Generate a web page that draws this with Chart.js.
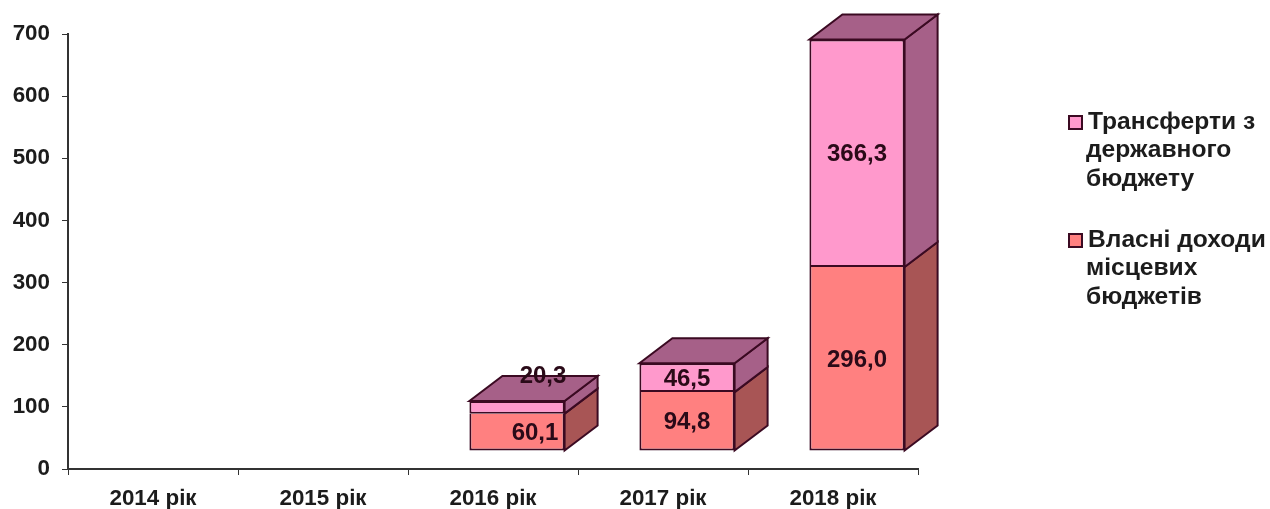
<!DOCTYPE html>
<html>
<head>
<meta charset="utf-8">
<script src="https://cdn.jsdelivr.net/npm/chart.js@4"></script>
<style>
  html, body { margin: 0; padding: 0; background: #fff; }
  canvas { display: block; filter: blur(0.6px); }
</style>
</head>
<body>
<canvas id="myChart" width="1270" height="509"></canvas>
<script>
const categories = ['2014 рік', '2015 рік', '2016 рік', '2017 рік', '2018 рік'];
const ownRevenue = [null, null, 60.1, 94.8, 296.0];
const transfers = [null, null, 20.3, 46.5, 366.3];
const yTicks = [0, 100, 200, 300, 400, 500, 600, 700];

const FONT = '"Liberation Sans", Arial, sans-serif';
const TEXT_COLOR = '#1c1c1c';
const AXIS_COLOR = '#333';
const EDGE = '#3b0a22';

// fake 3D: front faces sit up and right of the axis, depth goes further back
const SHIFT = { x: 24, y: -18 };
const DEPTH = { x: 33, y: -25 };

// two labels in the 2016 column were dragged by hand in the original
const labelNudge = { '0:2': [18, 0], '1:2': [26, -32] };

function poly(ctx, pts, fill) {
  ctx.beginPath();
  pts.forEach((p, i) => (i ? ctx.lineTo(p[0], p[1]) : ctx.moveTo(p[0], p[1])));
  ctx.closePath();
  ctx.fillStyle = fill;
  ctx.fill();
  ctx.strokeStyle = EDGE;
  ctx.lineWidth = 2;
  ctx.stroke();
}

const boxPlugin = {
  id: 'box3d',
  beforeDatasetsDraw(chart) {
    const ctx = chart.ctx;
    ctx.save();
    ctx.translate(SHIFT.x, SHIFT.y);
    chart.data.datasets.forEach((ds, di) => {
      chart.getDatasetMeta(di).data.forEach((bar, i) => {
        if (ds.data[i] == null) return;
        const r = bar.x + bar.width / 2;
        const l = bar.x - bar.width / 2;
        poly(ctx, [[r, bar.base], [r + DEPTH.x, bar.base + DEPTH.y], [r + DEPTH.x, bar.y + DEPTH.y], [r, bar.y]], ds.sideColor);
        if (di === chart.data.datasets.length - 1) {
          poly(ctx, [[l, bar.y], [l + DEPTH.x, bar.y + DEPTH.y], [r + DEPTH.x, bar.y + DEPTH.y], [r, bar.y]], ds.sideColor);
        }
      });
    });
  },
  afterDatasetsDraw(chart) {
    const ctx = chart.ctx;
    ctx.restore();
    ctx.save();
    ctx.font = 'bold 24px ' + FONT;
    ctx.fillStyle = '#2a0a18';
    ctx.textAlign = 'center';
    ctx.textBaseline = 'middle';
    chart.data.datasets.forEach((ds, di) => {
      chart.getDatasetMeta(di).data.forEach((bar, i) => {
        if (ds.data[i] == null) return;
        const nudge = labelNudge[di + ':' + i] || [0, 0];
        const x = bar.x + SHIFT.x + nudge[0];
        const y = (bar.y + bar.base) / 2 + SHIFT.y + 1.5 + nudge[1];
        ctx.fillText(ds.data[i].toFixed(1).replace('.', ','), x, y);
      });
    });
    ctx.restore();
  }
};

const legendPlugin = {
  id: 'sideLegend',
  afterDraw(chart) {
    const ctx = chart.ctx;
    const items = [
      { ds: 1, top: 122, lines: ['Трансферти з', 'державного', 'бюджету'] },
      { ds: 0, top: 240, lines: ['Власні доходи', 'місцевих', 'бюджетів'] }
    ];
    ctx.save();
    ctx.font = 'bold 24.6px ' + FONT;
    ctx.textBaseline = 'middle';
    items.forEach(item => {
      ctx.fillStyle = chart.data.datasets[item.ds].backgroundColor;
      ctx.strokeStyle = EDGE;
      ctx.lineWidth = 2;
      ctx.fillRect(1069, item.top - 6, 13, 13);
      ctx.strokeRect(1069, item.top - 6, 13, 13);
      ctx.fillStyle = TEXT_COLOR;
      item.lines.forEach((line, n) => {
        ctx.fillText(line, n === 0 ? 1088 : 1086, item.top + n * 28.5);
      });
    });
    ctx.restore();
  }
};

new Chart(document.getElementById('myChart').getContext('2d'), {
  type: 'bar',
  data: {
    labels: categories,
    datasets: [
      { label: 'Власні доходи місцевих бюджетів', data: ownRevenue, backgroundColor: '#ff8080', sideColor: '#a85555', borderColor: EDGE, borderWidth: 2, borderSkipped: 'top', clip: false },
      { label: 'Трансферти з державного бюджету', data: transfers, backgroundColor: '#ff99cc', sideColor: '#a66088', borderColor: EDGE, borderWidth: 2, borderSkipped: false, clip: false }
    ]
  },
  options: {
    responsive: false,
    animation: false,
    layout: { padding: { top: 34, right: 352, left: 0, bottom: 0 } },
    datasets: { bar: { categoryPercentage: 1, barPercentage: 0.56 } },
    plugins: { legend: { display: false }, tooltip: { enabled: false } },
    scales: {
      x: {
        stacked: true,
        afterFit: scale => { scale.height = 40; },
        grid: { drawOnChartArea: false, color: AXIS_COLOR, tickLength: 6 },
        border: { color: AXIS_COLOR, width: 2 },
        ticks: { color: TEXT_COLOR, maxRotation: 0, padding: 10, font: { family: FONT, weight: 'bold', size: 22.4 } }
      },
      y: {
        stacked: true,
        min: 0,
        max: 700,
        afterFit: scale => { scale.width = 68; },
        afterBuildTicks: scale => { scale.ticks = yTicks.map(value => ({ value })); },
        grid: { drawOnChartArea: false, color: AXIS_COLOR, tickLength: 6 },
        border: { color: AXIS_COLOR, width: 2 },
        ticks: { color: TEXT_COLOR, padding: 12, font: { family: FONT, weight: 'bold', size: 22.4 } }
      }
    }
  },
  plugins: [boxPlugin, legendPlugin]
});
</script>
</body>
</html>
